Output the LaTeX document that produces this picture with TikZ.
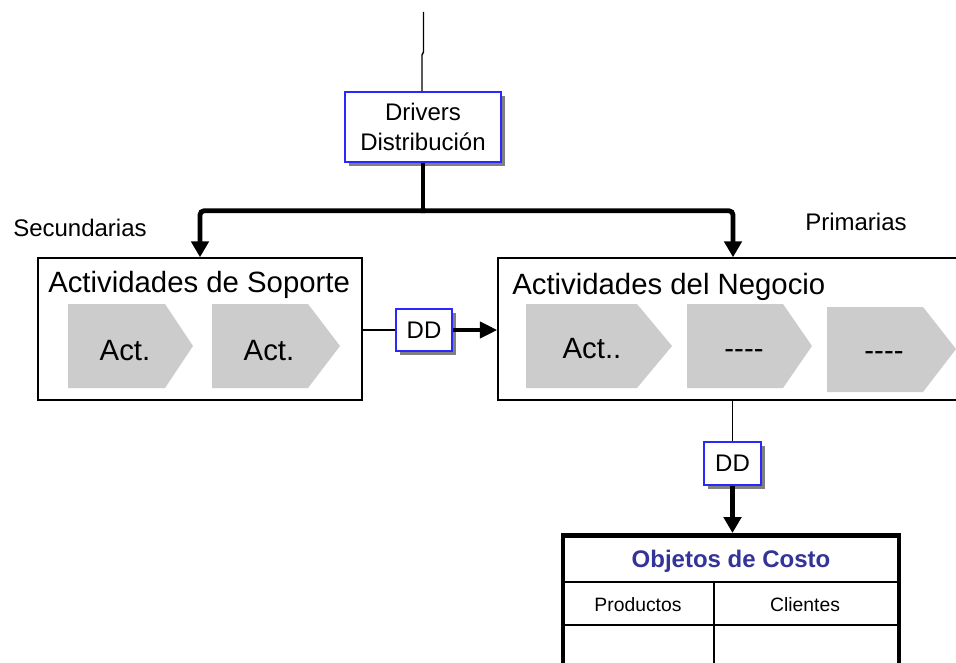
\documentclass[tikz,border=0pt]{standalone}
\usepackage{fontspec}
\setmainfont{Liberation Sans}
\usetikzlibrary{arrows.meta,shadows}
\definecolor{boxblue}{RGB}{40,40,255}
\definecolor{headblue}{RGB}{51,51,153}
\definecolor{actgray}{RGB}{204,204,204}
\definecolor{shadowgray}{RGB}{128,128,128}
\tikzset{
  thinline/.style={line width=1.1pt},
  thickline/.style={line width=3.6pt},
  thickarrow/.style={line width=3.6pt,-{Triangle[length=12pt,width=13pt]}},
  frame/.style={draw,thinline,fill=white,inner sep=0pt},
  drvbox/.style={draw=boxblue,fill=white,line width=1.2pt,align=center,inner sep=0pt,
    drop shadow={shadow xshift=3pt,shadow yshift=-3pt,fill=shadowgray,opacity=1}},
  lbl/.style={font=\fontsize{18}{22}\selectfont},
  title/.style={font=\fontsize{22}{26}\selectfont,anchor=base west,inner sep=0pt},
  acttext/.style={font=\fontsize{22}{26}\selectfont,anchor=base,inner sep=0pt},
  actshape/.style={fill=actgray},
  celltext/.style={font=\fontsize{14.5}{17}\selectfont,inner sep=0pt},
}
\begin{document}
\begin{tikzpicture}[x=0.75pt,y=-0.75pt]
\clip (0,0) rectangle (956,663);
\fill[white] (0,0) rectangle (956,663);

% driver box and the incoming line
\node[drvbox,lbl,minimum width=117pt,minimum height=52.5pt] (drv) at (423,127) {Drivers\\Distribución};
\coordinate (top) at (423.5,12);
\coordinate (jog) at (422,55);
\draw[thinline] (top) -- (423.5,52) -- (jog) -- (jog |- drv.north);

% the two activity groups
\node[frame,minimum width=243pt,minimum height=106.5pt] (sop) at (200,329) {};
\node[frame,minimum width=352.5pt,minimum height=106.5pt] (neg) at (733,329) {};
\node[title] (sopt) at (48,292) {Actividades de Soporte};
\node[title] (negt) at (512,294) {Actividades del Negocio};

\node[lbl,anchor=base west,inner sep=0pt] (sec) at (13,236) {Secundarias};
\node[lbl,anchor=base west,inner sep=0pt] (pri) at (805,230) {Primarias};

% split from the driver box to both groups
\draw[thickline] (drv.south) -- ++(0,48) coordinate (split);
\draw[thickarrow,rounded corners=3pt] ([xshift=1.8pt]split) -| (sop.north);
\draw[thickarrow,rounded corners=3pt] ([xshift=-1.8pt]split) -| (neg.north);

% support activities
\fill[actshape] (68,304) -- (165,304) -- (193,346) -- (165,388) -- (68,388) -- cycle;
\fill[actshape] (212,304) -- (308,304) -- (340,346) -- (308,388) -- (212,388) -- cycle;
\node[acttext] (s1) at (125,360) {Act.};
\node[acttext] (s2) at (269,360) {Act.};

% business activities
\fill[actshape] (526,304) -- (637,304) -- (672,346) -- (637,388) -- (526,388) -- cycle;
\fill[actshape] (687,304) -- (783,304) -- (812,346) -- (783,388) -- (687,388) -- cycle;
\fill[actshape] (827,307) -- (923,307) -- (956,349) -- (923,392) -- (827,392) -- cycle;
\node[acttext] (n1) at (592,358) {Act..};
\node[acttext] (n2) at (744,358) {-{}-{}-{}-};
\node[acttext] (n3) at (884,360) {-{}-{}-{}-};

% distribution drivers between the levels
\node[drvbox,lbl,minimum width=42pt,minimum height=31.5pt] (dd1) at (424,330) {DD};
\node[drvbox,lbl,minimum width=42.75pt,minimum height=32.25pt] (dd2) at (732.5,463.5) {DD};
\draw[thinline] (dd1.west -| sop.east) -- (dd1.west);
\draw[line width=3pt,-{Triangle[length=13pt,width=12pt]}] (dd1.east) -- (dd1.east -| neg.west);
\draw[thinline] (dd2.north |- neg.south) -- (dd2.north);

% cost objects table
\node[draw,line width=3.7pt,fill=white,anchor=north,minimum width=252pt,minimum height=150pt,inner sep=0pt] (tab) at (731,533) {};
\draw[thickarrow] (dd2.south) -- (dd2.south |- tab.north);
\node[font=\bfseries\fontsize{18}{22}\selectfont,text=headblue] (head) at (731,561) {Objetos de Costo};
\coordinate (r1) at (0,582);
\coordinate (r2) at (0,625);
\coordinate (c1) at (714,0);
\draw[thinline] (r1 -| tab.west) -- (r1 -| tab.east);
\draw[thinline] (r2 -| tab.west) -- (r2 -| tab.east);
\draw[thinline] (c1 |- r1) -- (c1 |- tab.south);
\node[celltext] (prod) at (638,605) {Productos};
\node[celltext] (cli) at (805,605) {Clientes};
\end{tikzpicture}
\end{document}
